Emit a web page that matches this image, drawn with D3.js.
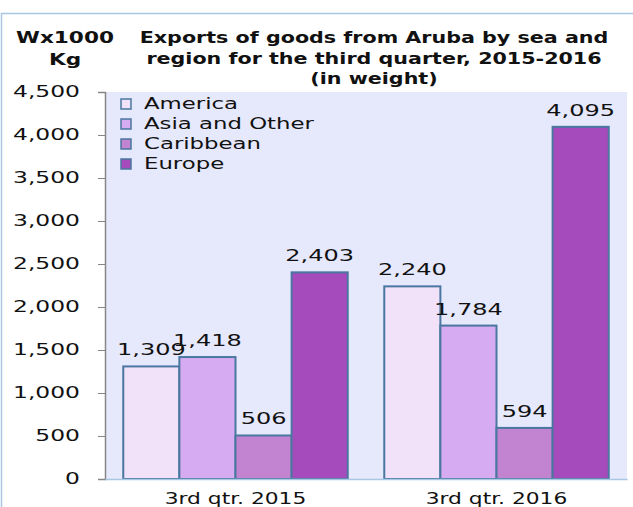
<!DOCTYPE html>
<html lang="en">
<head>
  <meta charset="utf-8">
  <title>Exports of goods from Aruba by sea</title>
  <script src="https://d3js.org/d3.v7.min.js"></script>
  <style>
    body { margin: 0; background: #fff; }
    text { font-family: "DejaVu Sans", sans-serif; fill: #111; }
  </style>
</head>
<body>
<svg width="633" height="507"></svg>
<script>
  var quarters = ["3rd qtr. 2015", "3rd qtr. 2016"];
  var regions = ["America", "Asia and Other", "Caribbean", "Europe"];
  var values2015 = [1309, 1418, 506, 2403];
  var values2016 = [2240, 1784, 594, 4095];
  var yTicks = [0, 500, 1000, 1500, 2000, 2500, 3000, 3500, 4000, 4500];
  var colors = ["#f2e2f9", "#d6abf2", "#c283d1", "#a64bbb"];

  var rows = [values2015, values2016].map(function(v, i) {
    return { quarter: quarters[i], vals: regions.map(function(r, j) { return { region: r, value: v[j] }; }) };
  });

  var svg = d3.select("svg"),
      margin = {top: 92, right: 6, bottom: 28, left: 105},
      width = +svg.attr("width") - margin.left - margin.right,
      height = +svg.attr("height") - margin.top - margin.bottom;

  // stretch text horizontally, the reference font is very wide
  function stretch(sel, k) {
    sel.each(function() {
      var w = this.getComputedTextLength();
      d3.select(this).attr("textLength", w * k).attr("lengthAdjust", "spacingAndGlyphs");
    });
  }

  // outer chart border
  svg.append("rect")
      .attr("x", 1.5).attr("y", 13.5)
      .attr("width", 660).attr("height", 520)
      .attr("fill", "none")
      .attr("stroke", "#a9c6e2")
      .attr("stroke-width", 1.5);

  var canvas = svg.append("g")
      .attr("transform", "translate(" + margin.left + "," + margin.top + ")");

  canvas.append("rect")
      .attr("width", width).attr("height", height)
      .attr("fill", "#e6e8fb");

  var x0 = d3.scaleBand().domain(quarters).range([0, width]).paddingInner(0.14).paddingOuter(0.07);
  var x1 = d3.scaleBand().domain(regions).range([0, x0.bandwidth()]);
  var y = d3.scaleLinear().domain([0, 4500]).range([height, 0]);

  // y axis
  var yAxis = canvas.append("g")
      .call(d3.axisLeft(y).tickValues(yTicks).tickSize(7).tickPadding(18).tickFormat(d3.format(",")));
  yAxis.select(".domain").attr("stroke", "#868686").attr("stroke-width", 1.5);
  yAxis.selectAll(".tick line").attr("stroke", "#868686");
  yAxis.selectAll(".tick text").attr("font-size", 15).attr("font-family", "DejaVu Sans").attr("fill", "#111")
      .call(stretch, 1.56);

  // bars
  var groups = canvas.selectAll(".grp")
      .data(rows)
      .enter().append("g")
      .attr("class", "grp")
      .attr("transform", function(d) { return "translate(" + x0(d.quarter) + ",0)"; });

  groups.selectAll("rect")
      .data(function(d) { return d.vals; })
      .enter().append("rect")
      .attr("x", function(d) { return x1(d.region); })
      .attr("y", function(d) { return y(d.value); })
      .attr("width", x1.bandwidth())
      .attr("height", function(d) { return height - y(d.value); })
      .attr("fill", function(d, i) { return colors[i]; })
      .attr("stroke", "#4a77a0")
      .attr("stroke-width", 2);

  groups.selectAll(".lbl")
      .data(function(d) { return d.vals; })
      .enter().append("text")
      .attr("class", "lbl")
      .attr("x", function(d) { return x1(d.region) + x1.bandwidth() / 2; })
      .attr("y", function(d) { return y(d.value) - 11; })
      .attr("text-anchor", "middle")
      .attr("font-size", 15)
      .text(function(d) { return d3.format(",")(d.value); })
      .call(stretch, 1.6);

  // x axis
  var xAxis = canvas.append("g")
      .attr("transform", "translate(0," + height + ")")
      .call(d3.axisBottom(x0).tickSize(0).tickPadding(14));
  xAxis.select(".domain").attr("stroke", "#a9c6e2").attr("stroke-width", 1.5);
  xAxis.selectAll(".tick text").attr("font-size", 15).attr("font-family", "DejaVu Sans").attr("fill", "#111")
      .call(stretch, 1.45);

  // legend
  var legend = canvas.selectAll(".legend")
      .data(regions)
      .enter().append("g")
      .attr("class", "legend")
      .attr("transform", function(d, i) { return "translate(16," + (7 + i * 20) + ")"; });
  legend.append("rect")
      .attr("width", 10).attr("height", 10)
      .attr("fill", function(d, i) { return colors[i]; })
      .attr("stroke", "#4a77a0").attr("stroke-width", 1.5);
  legend.append("text")
      .attr("x", 23).attr("y", 10)
      .attr("font-size", 15)
      .text(function(d) { return d; })
      .call(stretch, 1.52);

  // titles
  var titleLines = ["Exports of goods from Aruba by sea and",
                    "region for the third quarter, 2015-2016",
                    "(in weight)"];
  svg.selectAll(".title")
      .data(titleLines)
      .enter().append("text")
      .attr("class", "title")
      .attr("x", 374)
      .attr("y", function(d, i) { return 43 + i * 20.5; })
      .attr("text-anchor", "middle")
      .attr("font-family", "Open Sans")
      .attr("font-weight", "bold")
      .attr("font-size", 16)
      .text(function(d) { return d; })
      .call(stretch, 1.29);

  svg.selectAll(".unit")
      .data(["Wx1000", "Kg"])
      .enter().append("text")
      .attr("class", "unit")
      .attr("x", 65)
      .attr("y", function(d, i) { return 43 + i * 22; })
      .attr("text-anchor", "middle")
      .attr("font-family", "Open Sans")
      .attr("font-weight", "bold")
      .attr("font-size", 16)
      .text(function(d) { return d; })
      .call(stretch, 1.35);
</script>
</body>
</html>
